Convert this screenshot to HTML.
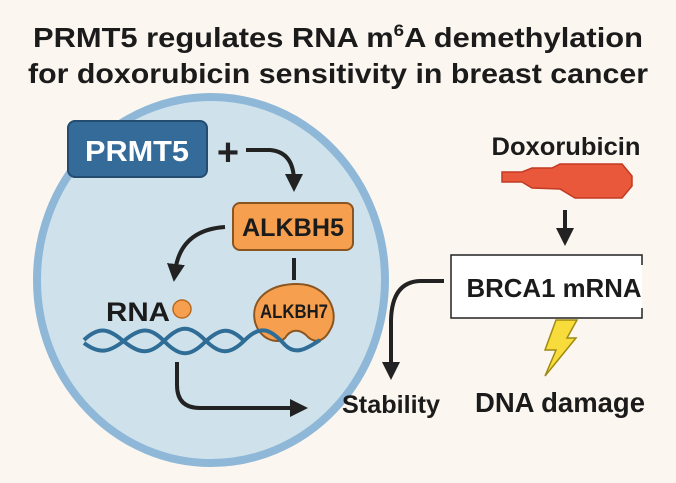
<!DOCTYPE html>
<html><head><meta charset="utf-8"><style>
body{margin:0;background:#fbf7f0;}
svg{display:block}
text{font-family:"Liberation Sans",sans-serif;font-weight:bold;}
</style></head><body>
<svg width="676" height="483" viewBox="0 0 676 483" xmlns="http://www.w3.org/2000/svg">
<rect width="676" height="483" fill="#fbf7f0"/>
<defs><marker id="a" markerWidth="20" markerHeight="20" refX="8" refY="9" orient="auto" markerUnits="userSpaceOnUse"><path d="M0,0 L18,9 L0,18 Z" fill="#222"/></marker></defs>
<text x="338" y="47" font-size="28" text-anchor="middle" fill="#1b1b1b" textLength="610" lengthAdjust="spacingAndGlyphs">PRMT5 regulates RNA m<tspan font-size="17" dy="-11">6</tspan><tspan dy="11">A demethylation</tspan></text>
<text x="338" y="83" font-size="28" text-anchor="middle" fill="#1b1b1b" textLength="620" lengthAdjust="spacingAndGlyphs">for doxorubicin sensitivity in breast cancer</text>
<ellipse cx="211" cy="280" rx="174" ry="183" fill="#cfe2ec" stroke="#8fb8d8" stroke-width="8"/>
<rect x="68" y="121" width="139" height="56" rx="7" fill="#356b98" stroke="#234c70" stroke-width="2"/>
<text x="137" y="161" font-size="29" fill="#fff" text-anchor="middle" textLength="104" lengthAdjust="spacingAndGlyphs">PRMT5</text>
<text x="228" y="165" font-size="38" fill="#222" text-anchor="middle">+</text>
<path d="M246,150 L270,150 Q294,152 294,182" fill="none" stroke="#222" stroke-width="4" marker-end="url(#a)"/>
<rect x="233" y="203" width="120" height="47" rx="7" fill="#f6a04f" stroke="#8a5520" stroke-width="2"/>
<text x="293" y="236" font-size="25" fill="#1b1b1b" text-anchor="middle" textLength="102" lengthAdjust="spacingAndGlyphs">ALKBH5</text>
<path d="M225,227 Q180,230 175,272" fill="none" stroke="#222" stroke-width="4" marker-end="url(#a)"/>
<line x1="294" y1="258" x2="294" y2="280" stroke="#222" stroke-width="4"/>
<path d="M297,284 C330,284 340,315 330,330 C322,345 312,342 306,335 C298,328 290,330 285,338 C278,345 260,340 255,322 C250,300 268,284 297,284 Z" fill="#f6a04f" stroke="#8a5520" stroke-width="2"/>
<text x="294" y="318" font-size="19" fill="#1b1b1b" text-anchor="middle" textLength="68" lengthAdjust="spacingAndGlyphs">ALKBH7</text>
<text x="138" y="321" font-size="27" fill="#1b1b1b" text-anchor="middle" textLength="64" lengthAdjust="spacingAndGlyphs">RNA</text>
<circle cx="182" cy="309" r="9" fill="#f6a04f" stroke="#b86a20" stroke-width="1.5"/>
<g fill="none" stroke="#2f6d97" stroke-width="4">
<path d="M84,340 C100,325 110,330 122,340 C140,355 150,355 165,340 C180,325 190,325 205,340 C220,355 230,355 245,340 C260,325 270,328 285,345 C295,355 305,350 320,340"/>
<path d="M84,343 C100,355 110,352 125,340 C140,328 150,326 165,342 C180,357 190,357 205,342 C220,328 230,326 245,342"/>
</g>
<path d="M177,362 L177,385 Q177,408 200,408 L298,408" fill="none" stroke="#222" stroke-width="4" marker-end="url(#a)"/>
<text x="566" y="155" font-size="25" fill="#1b1b1b" text-anchor="middle" textLength="149" lengthAdjust="spacingAndGlyphs">Doxorubicin</text>
<path d="M502,172 L522,172 L532,168 L552,168 L560,164 L622,164 L632,176 L632,186 L622,198 L575,198 L560,189 L532,188 L522,182 L502,182 Z" fill="#e9583a" stroke="#c13a22" stroke-width="1.5"/>
<path d="M565,210 L565,236" fill="none" stroke="#222" stroke-width="4" marker-end="url(#a)"/>
<path d="M642,265 L642,255 L451,255 L451,318 L642,318 L642,308" fill="#fff" stroke="#222" stroke-width="1.5"/>
<text x="554" y="297" font-size="26" fill="#1b1b1b" text-anchor="middle" textLength="175" lengthAdjust="spacingAndGlyphs">BRCA1 mRNA</text>
<path d="M444,281 L420,281 Q392,282 391,320 L391,370" fill="none" stroke="#222" stroke-width="4" marker-end="url(#a)"/>
<path d="M556,320 L577,320 L567,338 L576,338 L545,376 L556,350 L545,350 Z" fill="#f7dc3c" stroke="#a08a10" stroke-width="1.5"/>
<text x="391" y="413" font-size="25" fill="#1b1b1b" text-anchor="middle" textLength="98" lengthAdjust="spacingAndGlyphs">Stability</text>
<text x="560" y="412" font-size="28" fill="#1b1b1b" text-anchor="middle" textLength="170" lengthAdjust="spacingAndGlyphs">DNA damage</text>
</svg>
</body></html>
